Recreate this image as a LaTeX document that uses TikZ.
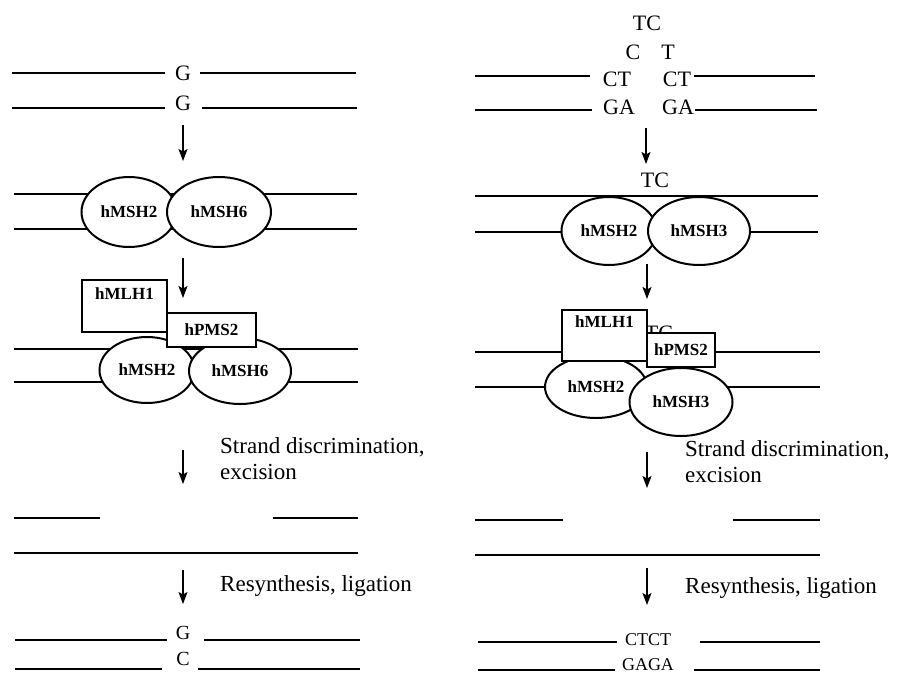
\documentclass[tikz,border=0pt]{standalone}
\usepackage{fontspec}
\setmainfont{Liberation Serif}
\usetikzlibrary{shapes.geometric,arrows.meta}

\tikzset{
  strand/.style={line width=1.8pt, line cap=butt},
  steparrow/.style={line width=1.4pt, -{Stealth[length=12pt,width=9pt,inset=2.5pt]}},
  base/.style={inner sep=0pt, font=\fontsize{22}{24}\selectfont},
  smallbase/.style={inner sep=0pt, font=\fontsize{20}{22}\selectfont},
  prot/.style={ellipse, draw, line width=2pt, fill=white, inner sep=0pt,
    font=\fontsize{17}{19}\selectfont\bfseries},
  protbox/.style={rectangle, draw, line width=2pt, fill=white, inner sep=0pt,
    font=\fontsize{17}{19}\selectfont\bfseries},
  toplabel/.style={font=\fontsize{17}{19}\selectfont\bfseries, inner sep=0pt},
  steptext/.style={anchor=north west, align=left, inner sep=0pt,
    font=\fontsize{23}{26}\selectfont},
}

\begin{document}
\begin{tikzpicture}[x=1pt, y=-1pt]
\useasboundingbox[fill=white] (0,0) rectangle (899,678);

% ---------------- left pathway: G/G mismatch ----------------
\node[base] (lg1) at (183,73) {G};
\node[base] (lg2) at (183,103) {G};
\draw[strand] (12,73) -- (165,73);  \draw[strand] (200,73) -- (356,73);
\draw[strand] (12,108) -- (165,108); \draw[strand] (202,108) -- (357,108);

\coordinate (la1s) at (183,125); \coordinate (la1e) at (183,161);
\draw[steparrow] (la1s) -- (la1e);

% hMutS-alpha bound to the mismatch
\draw[strand] (14,194) -- (357,194);
\draw[strand] (14,229) -- (357,229);
\node[prot, minimum width=95pt, minimum height=70pt] (lmsh2a) at (129,212) {hMSH2};
\node[prot, minimum width=104pt, minimum height=70pt] (lmsh6a) at (219,212) {hMSH6};

\coordinate (la2s) at (183,258); \coordinate (la2e) at (183,298);
\draw[steparrow] (la2s) -- (la2e);

% hMutL-alpha joins the complex
\draw[strand] (14,349) -- (358,349);
\draw[strand] (14,382) -- (358,382);
\node[prot, minimum width=95pt, minimum height=66pt] (lmsh2b) at (147,370) {hMSH2};
\node[prot, minimum width=102pt, minimum height=66pt] (lmsh6b) at (240,371) {hMSH6};
\node[protbox, minimum width=85pt, minimum height=52pt,
      label={[toplabel, anchor=north, yshift=-8pt]north:hMLH1}] (lmlh1) at (124.5,306) {};
\node[protbox, minimum width=89pt, minimum height=34pt] (lpms2) at (211.5,330) {hPMS2};

\coordinate (la3s) at (183,450); \coordinate (la3e) at (183,484);
\draw[steparrow] (la3s) -- (la3e);
\node[steptext] (ltxt1) at (220,437) {Strand discrimination,\\excision};

% excision gap
\draw[strand] (14,518) -- (100,518);
\draw[strand] (273,518) -- (358,518);
\draw[strand] (14,553) -- (358,553);

\coordinate (la4s) at (183,570); \coordinate (la4e) at (183,604);
\draw[steparrow] (la4s) -- (la4e);
\node[steptext] (ltxt2) at (220,575) {Resynthesis, ligation};

% repaired duplex
\node[smallbase] (lg3) at (183,633) {G};
\node[smallbase] (lc3) at (183,659) {C};
\draw[strand] (15,640) -- (167,640); \draw[strand] (204,640) -- (360,640);
\draw[strand] (15,669) -- (162,669); \draw[strand] (198,669) -- (360,669);

% ---------------- right pathway: insertion/deletion loop ----------------
\node[base] (rtc) at (647,23) {TC};
\node[base] (rc) at (633,52) {C};
\node[base] (rt) at (668,52) {T};
\node[base] (rct1) at (617,79) {CT};
\node[base] (rct2) at (677,79) {CT};
\node[base] (rga1) at (619,107) {GA};
\node[base] (rga2) at (678,107) {GA};
\draw[strand] (475,76) -- (590,76);  \draw[strand] (694,76) -- (815,76);
\draw[strand] (475,110) -- (592,110); \draw[strand] (695,110) -- (817,110);

\coordinate (ra1s) at (646,128); \coordinate (ra1e) at (646,164);
\draw[steparrow] (ra1s) -- (ra1e);

% hMutS-beta bound to the loop
\node[base] (rtc2) at (655,180) {TC};
\draw[strand] (475,196) -- (818,196);
\draw[strand] (475,232) -- (818,232);
\node[prot, minimum width=95pt, minimum height=68pt] (rmsh2a) at (609,231) {hMSH2};
\node[prot, minimum width=102pt, minimum height=68pt] (rmsh3a) at (699,231) {hMSH3};

\coordinate (ra2s) at (647,264); \coordinate (ra2e) at (647,299);
\draw[steparrow] (ra2s) -- (ra2e);

% hMutL-alpha joins the complex
\node[base] (rtc3) at (659,333) {TC};
\draw[strand] (475,352) -- (820,352);
\draw[strand] (475,387) -- (820,387);
\node[prot, minimum width=102pt, minimum height=62pt] (rmsh2b) at (596,387) {hMSH2};
\node[prot, minimum width=103pt, minimum height=68pt] (rmsh3b) at (681,402) {hMSH3};
\node[protbox, minimum width=85pt, minimum height=51pt,
      label={[toplabel, anchor=north, yshift=-6pt]north:hMLH1}] (rmlh1) at (604.5,335.5) {};
\node[protbox, minimum width=68pt, minimum height=34pt] (rpms2) at (681,350) {hPMS2};

\coordinate (ra3s) at (647,452); \coordinate (ra3e) at (647,488);
\draw[steparrow] (ra3s) -- (ra3e);
\node[steptext] (rtxt1) at (685,440) {Strand discrimination,\\excision};

% excision gap
\draw[strand] (475,520) -- (563,520);
\draw[strand] (733,520) -- (820,520);
\draw[strand] (475,555) -- (820,555);

\coordinate (ra4s) at (647,568); \coordinate (ra4e) at (647,605);
\draw[steparrow] (ra4s) -- (ra4e);
\node[steptext] (rtxt2) at (685,577) {Resynthesis, ligation};

% repaired duplex
\node[smallbase, font=\fontsize{18}{20}\selectfont] (rctct) at (648,640) {CTCT};
\node[smallbase, font=\fontsize{18}{20}\selectfont] (rgaga) at (648,665) {GAGA};
\draw[strand] (478,642) -- (617,642); \draw[strand] (700,642) -- (820,642);
\draw[strand] (478,670) -- (615,670); \draw[strand] (694,670) -- (820,670);
\end{tikzpicture}
\end{document}
